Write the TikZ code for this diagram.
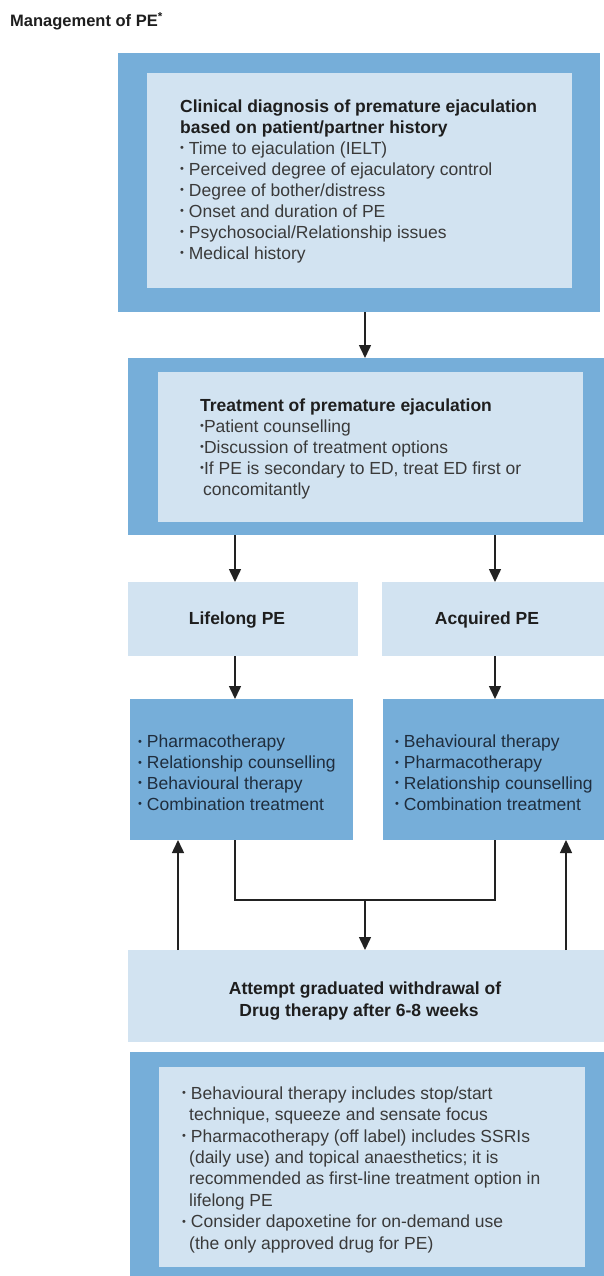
\documentclass[tikz,border=0pt]{standalone}
\usepackage{fontspec}
\setmainfont{Liberation Sans}
\usetikzlibrary{arrows.meta}
\definecolor{outerblue}{HTML}{76AED9}
\definecolor{innerblue}{HTML}{D2E3F1}
\definecolor{txtgray}{HTML}{3A3A3A}
\definecolor{txtdark}{HTML}{1E1E1E}
\definecolor{txtnavy}{HTML}{1F2D3D}
\definecolor{linegray}{HTML}{222222}
\newcommand{\pebul}{\raisebox{0.25ex}{\fontsize{11}{11}\selectfont\textbullet}}
\begin{document}
\begin{tikzpicture}[x=1pt,y=-1pt,
  boxbase/.style={draw=none, inner sep=0pt, outer sep=0pt, anchor=north west},
  outerbox/.style={boxbase, fill=outerblue},
  innerbox/.style={boxbase, fill=innerblue},
  txt/.style={font=\fontsize{17.5}{21}\selectfont, text=txtgray, align=left, inner sep=0pt, anchor=base west},
  boldtxt/.style={font=\fontsize{17.5}{22}\selectfont\bfseries, text=txtdark, inner sep=0pt},
  conn/.style={draw=linegray, line width=1.5pt},
  arr/.style={conn, -{Triangle[width=12pt,length=13pt]}}
]
\useasboundingbox (0,0) rectangle (604,1276);
\fill[white] (0,0) rectangle (604,1276);

% title
\node[font=\fontsize{16.5}{20}\selectfont\bfseries, text=txtdark, inner sep=0pt, anchor=base west] (title) at (10,27) {Management of PE\textsuperscript{*}};

% box 1 (anchor = baseline of last line)
\node[outerbox, minimum width=482pt, minimum height=259pt] (b1o) at (118,53) {};
\node[innerbox, minimum width=425pt, minimum height=215pt] (b1i) at (147,73) {};
\node[txt] (b1t) at (180,259) {\textbf{\color{txtdark}Clinical diagnosis of premature ejaculation}\\
\textbf{\color{txtdark}based on patient/partner history}\\
\pebul\ Time to ejaculation (IELT)\\
\pebul\ Perceived degree of ejaculatory control\\
\pebul\ Degree of bother/distress\\
\pebul\ Onset and duration of PE\\
\pebul\ Psychosocial/Relationship issues\\
\pebul\ Medical history};

% box 2
\node[outerbox, minimum width=476pt, minimum height=177pt] (b2o) at (128,358) {};
\node[innerbox, minimum width=425pt, minimum height=150pt] (b2i) at (158,372) {};
\node[txt] (b2t) at (200,495) {\textbf{\color{txtdark}Treatment of premature ejaculation}\\
\pebul Patient counselling\\
\pebul Discussion of treatment options\\
\pebul If PE is secondary to ED, treat ED first or\\
\hspace*{3pt}concomitantly};

% lifelong / acquired
\node[innerbox, minimum width=230pt, minimum height=74pt] (lL) at (128,582) {};
\node[innerbox, minimum width=222pt, minimum height=74pt] (lR) at (382,582) {};
\node[boldtxt] (lLt) at (237,620) {Lifelong PE};
\node[boldtxt] (lRt) at (487,620) {Acquired PE};

% treatment options
\node[outerbox, minimum width=223pt, minimum height=141pt] (tL) at (130,699) {};
\node[outerbox, minimum width=221pt, minimum height=141pt] (tR) at (383,699) {};
\node[txt, text=txtnavy, font=\fontsize{17.5}{20.7}\selectfont] (tLt) at (138,810) {\pebul\ Pharmacotherapy\\
\pebul\ Relationship counselling\\
\pebul\ Behavioural therapy\\
\pebul\ Combination treatment};
\node[txt, text=txtnavy, font=\fontsize{17.5}{20.7}\selectfont] (tRt) at (395,810) {\pebul\ Behavioural therapy\\
\pebul\ Pharmacotherapy\\
\pebul\ Relationship counselling\\
\pebul\ Combination treatment};

% withdrawal
\node[innerbox, minimum width=476pt, minimum height=92pt] (wd) at (128,950) {};
\node[boldtxt, align=center, anchor=base] (wdt) at (365,1016) {Attempt graduated withdrawal of\\Drug therapy after 6-8 weeks\hspace*{12pt}};

% bottom notes
\node[outerbox, minimum width=474pt, minimum height=224pt] (b3o) at (130,1052) {};
\node[innerbox, minimum width=426pt, minimum height=200pt] (b3i) at (159,1067) {};
\node[txt, font=\fontsize{17.5}{21.4}\selectfont] (b3t) at (182,1249) {\pebul\ Behavioural therapy includes stop/start\\
\hspace*{7pt}technique, squeeze and sensate focus\\
\pebul\ Pharmacotherapy (off label) includes SSRIs\\
\hspace*{7pt}(daily use) and topical anaesthetics; it is\\
\hspace*{7pt}recommended as first-line treatment option in\\
\hspace*{7pt}lifelong PE\\
\pebul\ Consider dapoxetine for on-demand use\\
\hspace*{7pt}(the only approved drug for PE)};

% connector columns
\coordinate (cM) at (365,0);
\coordinate (cL) at (235,0);
\coordinate (cR) at (495,0);
\coordinate (cFL) at (178,0);
\coordinate (cFR) at (566,0);
\coordinate (j) at (365,900);

\draw[arr] (b1o.south -| cM) -- (b2o.north -| cM);
\draw[arr] (b2o.south -| cL) -- (lL.north -| cL);
\draw[arr] (b2o.south -| cR) -- (lR.north -| cR);
\draw[arr] (lL.south -| cL) -- (tL.north -| cL);
\draw[arr] (lR.south -| cR) -- (tR.north -| cR);
\draw[conn] (tL.south -| cL) |- (j) -| (tR.south -| cR);
\draw[arr] (j) -- (wd.north -| j);
\draw[arr] (wd.north -| cFL) -- (tL.south -| cFL);
\draw[arr] (wd.north -| cFR) -- (tR.south -| cFR);
\end{tikzpicture}
\end{document}
